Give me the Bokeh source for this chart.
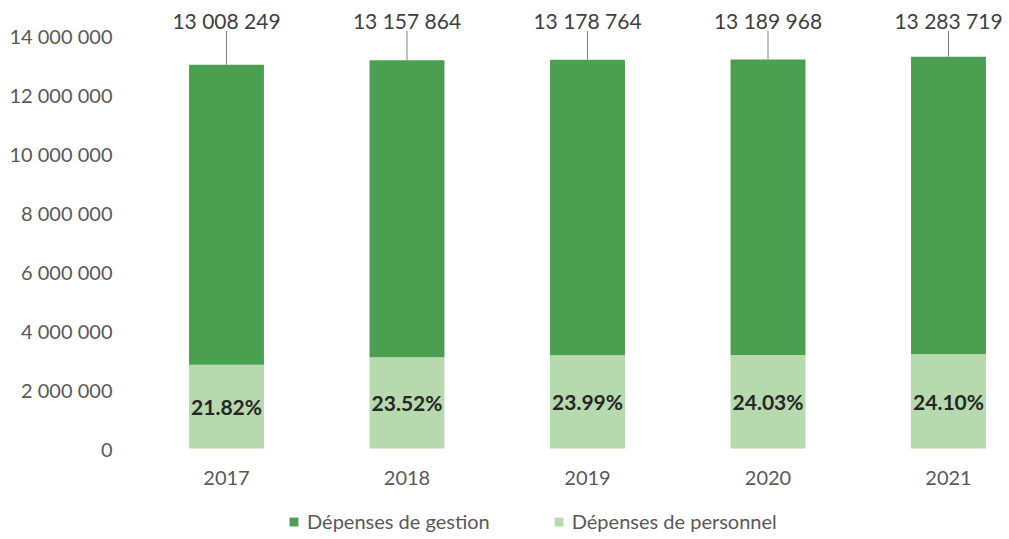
from bokeh.plotting import figure
from bokeh.models import (ColumnDataSource, FixedTicker, Legend, LegendItem, Range1d, LabelSet)
from bokeh.embed import file_html
from bokeh.resources import INLINE
from bokeh.core.properties import value

years = ["2017", "2018", "2019", "2020", "2021"]
totals = [13008249, 13157864, 13178764, 13189968, 13283719]
pct_personnel = [21.82, 23.52, 23.99, 24.03, 24.10]

y_ticks = [0, 2000000, 4000000, 6000000, 8000000, 10000000, 12000000, 14000000]

personnel = [t * p / 100 for t, p in zip(totals, pct_personnel)]
gestion = [t - p for t, p in zip(totals, personnel)]
xs = list(range(len(years)))

DARK = "#4a9f50"
LIGHT = "#b6d9ad"
TXT = "#595959"
FONT = "Lato"
FS = "20px"

LABEL_Y = 14508000
LINE_TOP = 14150000
YEAR_Y = -983000

src = ColumnDataSource(dict(
    x=xs, personnel=personnel, gestion=gestion, total=totals,
    mid=[p / 2 for p in personnel],
    pct=["%.2f%%" % p for p in pct_personnel],
    tot_lbl=["{:,}".format(t).replace(",", " ") for t in totals],
    year=years,
    lbl_y=[LABEL_Y] * len(years),
    line_top=[LINE_TOP] * len(years),
    year_y=[YEAR_Y] * len(years),
))

p = figure(width=1005, height=535, output_backend="svg", toolbar_location=None,
           x_range=Range1d(-0.5817, 4.3047), y_range=Range1d(-2881000, 15119000),
           min_border_left=121, min_border_right=2, min_border_top=2, min_border_bottom=2)
p.outline_line_color = None
p.grid.grid_line_color = None
p.xaxis.visible = False

rs = p.vbar_stack(["personnel", "gestion"], x="x", width=0.415, source=src,
                  color=[LIGHT, DARK], line_color=None)

p.segment(x0="x", y0="total", x1="x", y1="line_top", source=src,
          line_color="#7f7f7f", line_width=1)

p.add_layout(LabelSet(x="x", y="lbl_y", text="tot_lbl", source=src,
                      text_align="center", text_baseline="middle",
                      text_font=value(FONT), text_font_size="21px", text_color="#404040"))
p.add_layout(LabelSet(x="x", y="mid", text="pct", source=src,
                      text_align="center", text_baseline="middle",
                      text_font=value(FONT), text_font_size="21px",
                      text_font_style="bold", text_color="#262626"))
p.add_layout(LabelSet(x="x", y="year_y", text="year", source=src,
                      text_align="center", text_baseline="middle",
                      text_font=value(FONT), text_font_size=FS, text_color=TXT))

p.yaxis.ticker = FixedTicker(ticks=y_ticks)
p.yaxis.major_label_overrides = {t: "{:,}".format(t).replace(",", " ") for t in y_ticks}
p.yaxis.axis_line_color = None
p.yaxis.major_tick_line_color = None
p.yaxis.minor_tick_line_color = None
p.yaxis.major_label_text_font = FONT
p.yaxis.major_label_text_font_size = FS
p.yaxis.major_label_text_color = TXT
p.yaxis.major_label_standoff = 3

legend = Legend(items=[LegendItem(label="Dépenses de gestion", renderers=[rs[1]]),
                       LegendItem(label="Dépenses de personnel", renderers=[rs[0]])],
                orientation="horizontal", location=(167, 0),
                label_text_font=FONT, label_text_font_size=FS, label_text_color=TXT,
                glyph_width=11, glyph_height=11, spacing=63, label_standoff=8,
                border_line_color=None, background_fill_alpha=0, margin=0, padding=4)
p.add_layout(legend)

open("out.html", "w").write(file_html(p, INLINE))
